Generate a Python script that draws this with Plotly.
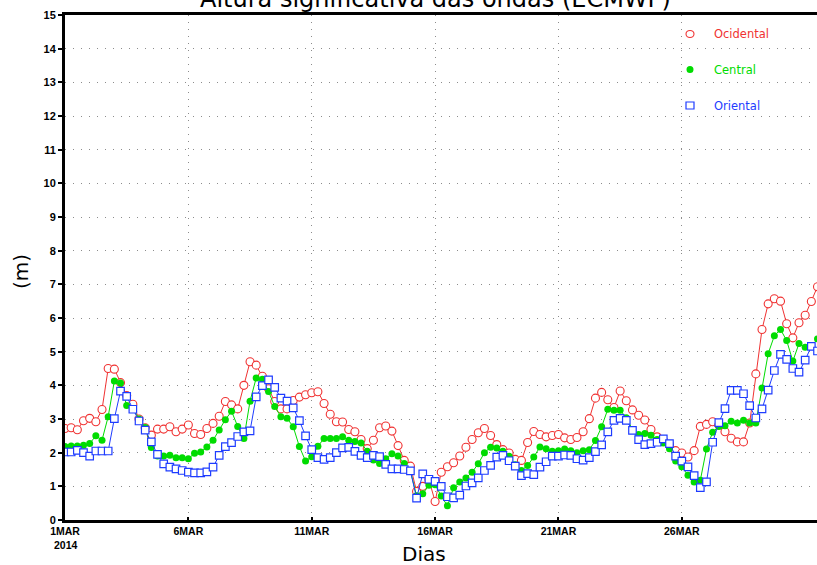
import plotly.graph_objects as go
import pandas as pd

# 6-hourly significant wave height (m), starting 2014-03-01 00Z
ocidental = [2.72, 2.74, 2.68, 2.95, 3.02, 2.92, 3.28, 4.50, 4.48, 4.08,
             3.70, 3.44, 3.00, 2.74, 2.52, 2.70, 2.70, 2.77, 2.62, 2.70,
             2.82, 2.57, 2.54, 2.72, 2.87, 3.08, 3.52, 3.42, 3.30, 4.00,
             4.70, 4.60, 4.27, 3.90, 3.52, 3.30, 3.30, 3.55, 3.65, 3.72,
             3.78, 3.81, 3.46, 3.14, 2.92, 2.91, 2.69, 2.62, 2.39, 2.12,
             2.37, 2.74, 2.79, 2.64, 2.21, 1.77, 1.60, 0.85, 1.00, 1.20,
             0.55, 1.42, 1.58, 1.70, 1.90, 2.16, 2.39, 2.59, 2.72, 2.51,
             2.24, 2.09, 1.99, 1.80, 1.77, 2.30, 2.63, 2.54, 2.47, 2.51,
             2.54, 2.44, 2.39, 2.45, 2.62, 3.01, 3.62, 3.79, 3.57, 3.34,
             3.83, 3.54, 3.27, 3.11, 2.97, 2.69, 2.47, 2.37, 2.24, 2.06,
             1.99, 1.87, 2.06, 2.78, 2.84, 2.92, 2.82, 2.62, 2.43, 2.32,
             2.32, 2.88, 4.34, 5.66, 6.42, 6.57, 6.50, 5.83, 5.41, 5.86,
             6.08, 6.49, 6.93]
central = [2.18, 2.20, 2.20, 2.22, 2.27, 2.50, 2.37, 3.07, 4.13, 4.07,
           3.40, 3.30, 3.00, 2.75, 2.15, 1.90, 1.90, 1.92, 1.85, 1.85,
           1.82, 1.98, 2.02, 2.17, 2.37, 2.67, 2.98, 3.23, 2.78, 2.42,
           3.53, 4.22, 4.18, 3.82, 3.37, 3.07, 3.02, 2.77, 2.18, 1.75,
           1.88, 2.19, 2.42, 2.42, 2.42, 2.47, 2.37, 2.33, 2.29, 2.04,
           1.78, 1.68, 1.82, 1.97, 1.90, 1.68, 1.45, 0.72, 0.78, 1.03,
           1.05, 0.71, 0.42, 0.96, 1.13, 1.25, 1.42, 1.67, 2.00, 2.16,
           2.14, 2.04, 1.89, 1.64, 1.47, 1.62, 1.87, 2.17, 2.12, 2.04,
           2.06, 2.11, 2.06, 2.00, 2.06, 2.09, 2.36, 2.77, 3.29, 3.26,
           3.26, 3.04, 2.69, 2.54, 2.57, 2.52, 2.39, 2.29, 2.12, 1.75,
           1.58, 1.33, 1.13, 1.18, 2.11, 2.61, 2.78, 2.80, 2.93, 2.88,
           2.96, 2.88, 2.88, 3.92, 4.94, 5.47, 5.66, 5.33, 4.72, 5.24,
           5.13, 5.16, 5.38]
oriental = [2.02, 2.02, 2.07, 2.00, 1.90, 2.05, 2.05, 2.05, 3.01, 3.83,
            3.67, 3.29, 2.94, 2.67, 2.32, 1.95, 1.67, 1.57, 1.52, 1.47,
            1.42, 1.40, 1.40, 1.43, 1.57, 1.92, 2.18, 2.30, 2.48, 2.62,
            2.65, 3.66, 3.99, 4.16, 3.94, 3.62, 3.53, 3.33, 2.95, 2.50,
            2.09, 1.85, 1.80, 1.85, 2.00, 2.14, 2.16, 2.04, 1.92, 1.85,
            1.92, 1.88, 1.65, 1.52, 1.52, 1.50, 1.46, 0.65, 1.37, 1.21,
            1.15, 1.00, 0.69, 0.66, 0.74, 1.01, 1.10, 1.25, 1.47, 1.62,
            1.87, 1.92, 1.76, 1.60, 1.32, 1.38, 1.35, 1.57, 1.73, 1.90,
            1.90, 1.93, 1.92, 1.82, 1.78, 1.85, 2.03, 2.23, 2.62, 2.96,
            3.02, 2.96, 2.66, 2.39, 2.24, 2.27, 2.31, 2.41, 2.27, 1.90,
            1.75, 1.58, 1.32, 0.96, 1.13, 2.31, 2.89, 3.31, 3.85, 3.85,
            3.75, 3.40, 3.03, 3.30, 3.86, 4.44, 4.92, 4.77, 4.50, 4.39,
            4.75, 5.16, 5.02]

series_names = ["Ocidental", "Central", "Oriental"]
tick_dates = ["2014-03-01", "2014-03-06", "2014-03-11", "2014-03-16",
              "2014-03-21", "2014-03-26"]
tick_text = ["1MAR", "6MAR", "11MAR", "16MAR", "21MAR", "26MAR"]
year_label = "2014"
y_ticks = list(range(0, 16))

times = pd.date_range("2014-03-01 00:00", periods=len(ocidental), freq="6h")

RED = "#f03232"
GREEN = "#00dc00"
BLUE = "#1e3cff"
GRID = "#8c8c8c"
FONT = "Liberation Sans"

fig = go.Figure()
fig.add_trace(go.Scatter(
    x=times, y=ocidental, mode="lines+markers", name=series_names[0],
    line=dict(color=RED, width=1),
    marker=dict(symbol="circle", size=8, color="white",
                line=dict(color=RED, width=1.1)),
))
fig.add_trace(go.Scatter(
    x=times, y=central, mode="lines+markers", name=series_names[1],
    line=dict(color=GREEN, width=1),
    marker=dict(symbol="circle", size=7, color=GREEN, line=dict(width=0)),
))
fig.add_trace(go.Scatter(
    x=times, y=oriental, mode="lines+markers", name=series_names[2],
    line=dict(color=BLUE, width=1),
    marker=dict(symbol="square", size=7.5, color="white",
                line=dict(color=BLUE, width=1.2)),
))

W, H = 817, 565
L, R, T, B = 65, 0, 15, 45
pw, ph = W - L - R, H - T - B


def px(x):
    return (x - L) / pw


def py(y):
    return (H - B - y) / ph


fig.update_layout(
    width=W, height=H,
    margin=dict(l=L, r=R, t=T, b=B, pad=0),
    paper_bgcolor="white", plot_bgcolor="white",
    showlegend=False,
    font=dict(family=FONT, color="black"),
    xaxis=dict(
        range=["2014-03-01 00:00", "2014-03-31 11:30"],
        tickvals=tick_dates, ticktext=tick_text,
        tickfont=dict(family=FONT, size=10.5, color="black", weight="bold"),
        showgrid=True, gridcolor=GRID, gridwidth=1, griddash="1px,6px",
        showline=True, linecolor="black", linewidth=2.5, mirror=True,
        ticks="inside", ticklen=3, tickwidth=1.5, tickcolor="black",
        zeroline=False, fixedrange=True,
    ),
    yaxis=dict(
        range=[0, 15], tickvals=y_ticks,
        tickfont=dict(family=FONT, size=11, color="black", weight="bold"),
        showgrid=True, gridcolor=GRID, gridwidth=1, griddash="1px,7px",
        showline=True, linecolor="black", linewidth=3, mirror=False,
        ticks="outside", ticklen=4, tickwidth=1.5, tickcolor="black",
        zeroline=False, fixedrange=True,
    ),
)

annotations = [
    dict(text="Altura significativa das ondas (ECMWF)", x=px(435), y=1.0,
         xref="paper", yref="paper", xanchor="center", yanchor="bottom",
         showarrow=False, font=dict(family="DejaVu Sans", size=24, color="black")),
    dict(text=year_label, x=px(66), y=py(545), xref="paper", yref="paper",
         xanchor="center", yanchor="middle", showarrow=False,
         font=dict(family=FONT, size=10.5, color="black", weight="bold")),
    dict(text="Dias", x=px(424), y=py(554), xref="paper", yref="paper",
         xanchor="center", yanchor="middle", showarrow=False,
         font=dict(family="DejaVu Sans", size=20, color="black")),
    dict(text="(m)", x=px(21), y=py(272), xref="paper", yref="paper",
         xanchor="center", yanchor="middle", showarrow=False, textangle=-90,
         font=dict(family="DejaVu Sans", size=20, color="black")),
]
legend_rows = [(series_names[0], RED, 34), (series_names[1], GREEN, 69.5),
               (series_names[2], BLUE, 105.5)]
for name, col, yy in legend_rows:
    annotations.append(dict(text=name, x=px(712), y=py(yy), xref="paper",
                            yref="paper", xanchor="left", yanchor="middle",
                            showarrow=False,
                            font=dict(family="DejaVu Sans", size=11.5, color=col)))
fig.update_layout(annotations=annotations)

shapes = [
    dict(type="circle", xref="paper", yref="paper", xsizemode="pixel",
         ysizemode="pixel", xanchor=px(690), yanchor=py(34),
         x0=-4, x1=4, y0=-3.5, y1=3.5, line=dict(color=RED, width=1.1),
         fillcolor="white"),
    dict(type="circle", xref="paper", yref="paper", xsizemode="pixel",
         ysizemode="pixel", xanchor=px(690), yanchor=py(69.5),
         x0=-3.5, x1=3.5, y0=-3.5, y1=3.5, line=dict(color=GREEN, width=0),
         fillcolor=GREEN),
    dict(type="rect", xref="paper", yref="paper", xsizemode="pixel",
         ysizemode="pixel", xanchor=px(690), yanchor=py(105.5),
         x0=-4, x1=4, y0=-3.5, y1=3.5, line=dict(color=BLUE, width=1.2),
         fillcolor="white"),
]
fig.update_layout(shapes=shapes)

fig.write_html("out.html")
